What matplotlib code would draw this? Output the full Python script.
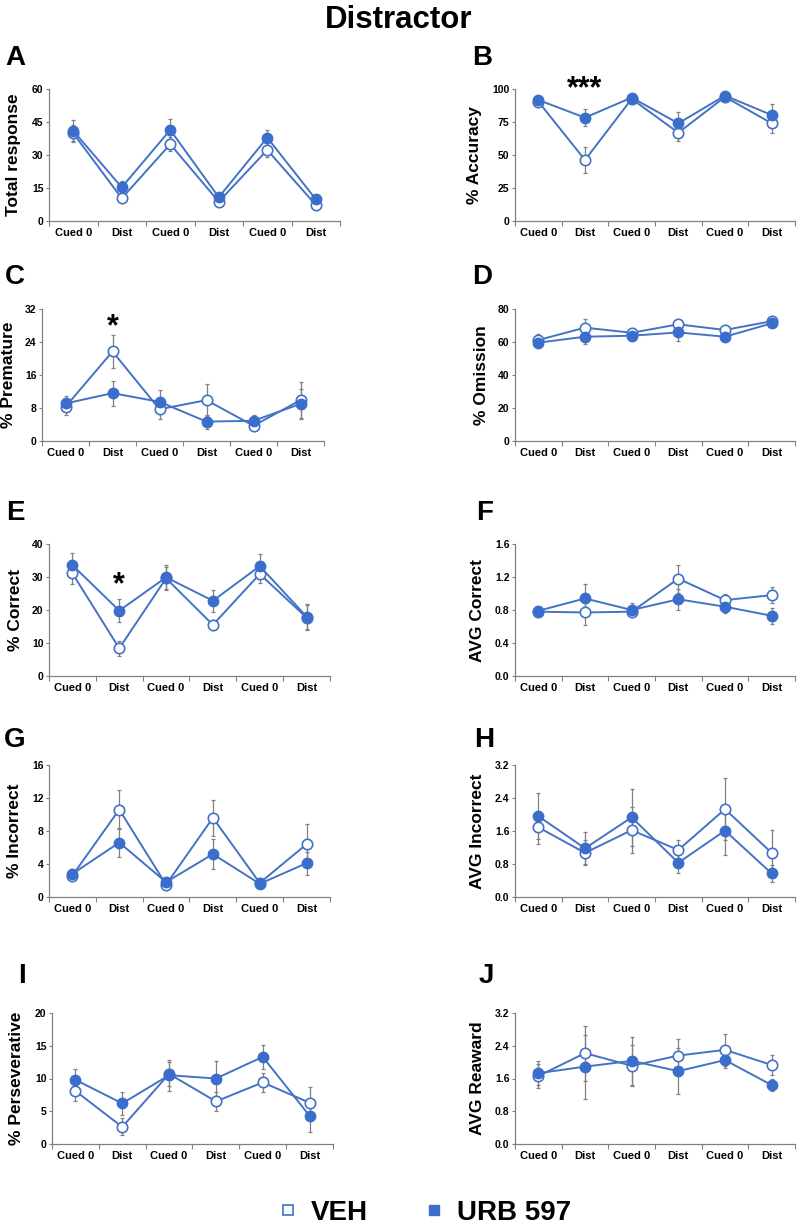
import matplotlib
matplotlib.use("Agg")
import matplotlib.pyplot as plt
from matplotlib.lines import Line2D

plt.rcParams["font.family"] = ["Liberation Sans", "DejaVu Sans"]
plt.rcParams["font.weight"] = "bold"
plt.rcParams["axes.labelweight"] = "bold"

FIG_W, FIG_H = 797, 1227
BLUE = "#4472C4"
BLUE_FILL = "#3B6ECC"
GREY = "#808080"

conditions = ["Cued 0", "Dist", "Cued 0", "Dist", "Cued 0", "Dist"]

# A - Total response
veh_total = [39.9, 10.3, 34.9, 8.8, 32.3, 7.3]
veh_total_err = [3.8, 1.0, 3.2, 0.8, 3.0, 0.7]
urb_total = [41.0, 15.3, 41.4, 10.8, 37.9, 9.9]
urb_total_err = [4.8, 3.0, 4.8, 1.2, 3.5, 1.0]

# B - % Accuracy
veh_acc = [90.5, 46.2, 92.5, 66.9, 94.0, 74.0]
veh_acc_err = [2.0, 10.0, 2.0, 6.0, 1.5, 7.0]
urb_acc = [91.7, 78.3, 93.5, 74.0, 95.0, 80.3]
urb_acc_err = [2.0, 6.5, 1.5, 8.5, 1.5, 8.7]

# C - % Premature
veh_prem = [8.3, 21.7, 7.7, 9.9, 3.7, 9.9]
veh_prem_err = [2.0, 4.0, 2.3, 3.8, 1.2, 4.3]
urb_prem = [9.1, 11.6, 9.5, 4.7, 4.9, 9.0]
urb_prem_err = [1.8, 3.0, 2.8, 1.7, 1.5, 3.6]

# D - % Omission
veh_omis = [61.2, 68.7, 65.6, 70.7, 67.3, 72.6]
veh_omis_err = [3.5, 5.0, 1.5, 2.0, 1.5, 1.5]
urb_omis = [59.6, 63.2, 63.8, 65.8, 63.2, 71.3]
urb_omis_err = [2.5, 4.5, 1.5, 5.0, 1.5, 1.5]

# E - % Correct
veh_corr = [31.1, 8.4, 29.6, 15.5, 30.9, 17.7]
veh_corr_err = [3.2, 2.3, 3.3, 1.5, 2.7, 3.7]
urb_corr = [33.6, 19.8, 29.9, 22.8, 33.3, 18.0]
urb_corr_err = [3.7, 3.4, 3.7, 3.4, 3.6, 3.8]

# F - AVG Correct
veh_avgc = [0.78, 0.77, 0.78, 1.18, 0.92, 0.98]
veh_avgc_err = [0.03, 0.15, 0.05, 0.17, 0.08, 0.10]
urb_avgc = [0.79, 0.94, 0.80, 0.93, 0.84, 0.73]
urb_avgc_err = [0.03, 0.17, 0.08, 0.13, 0.08, 0.10]

# G - % Incorrect
veh_inc = [2.6, 10.6, 1.5, 9.6, 1.7, 6.4]
veh_inc_err = [0.5, 2.4, 0.5, 2.2, 0.4, 2.4]
urb_inc = [2.8, 6.6, 1.8, 5.2, 1.6, 4.1]
urb_inc_err = [0.6, 1.8, 0.6, 1.8, 0.5, 1.4]

# H - AVG Incorrect
veh_avgi = [1.69, 1.07, 1.62, 1.14, 2.13, 1.07]
veh_avgi_err = [0.40, 0.30, 0.55, 0.25, 0.75, 0.55]
urb_avgi = [1.96, 1.18, 1.93, 0.83, 1.61, 0.57]
urb_avgi_err = [0.55, 0.39, 0.70, 0.24, 0.60, 0.20]

# I - % Perseverative
veh_pers = [8.1, 2.6, 10.7, 6.5, 9.4, 6.3]
veh_pers_err = [1.6, 1.3, 1.8, 1.5, 1.4, 2.4]
urb_pers = [9.8, 6.2, 10.5, 10.0, 13.3, 4.3]
urb_pers_err = [1.7, 1.8, 2.4, 2.7, 1.8, 2.5]

# J - AVG Reaward
veh_rew = [1.66, 2.22, 1.91, 2.16, 2.30, 1.93]
veh_rew_err = [0.30, 0.67, 0.50, 0.40, 0.39, 0.24]
urb_rew = [1.73, 1.89, 2.03, 1.78, 2.05, 1.44]
urb_rew_err = [0.30, 0.78, 0.58, 0.57, 0.20, 0.14]

# letter, y label, y ticks, tick format, data, box in px (left, right, top, bottom),
# panel-letter position px, y-label centre x px, significance mark (index, text, y)
panels = [
    ("A", "Total response", [0, 15, 30, 45, 60], "{:.0f}",
     (veh_total, veh_total_err, urb_total, urb_total_err),
     (49, 340, 89, 221), (15, 58), 14, None),
    ("B", "% Accuracy", [0, 25, 50, 75, 100], "{:.0f}",
     (veh_acc, veh_acc_err, urb_acc, urb_acc_err),
     (515, 795, 89, 221), (482, 58), 474, (1, "***", 100)),
    ("C", "% Premature", [0, 8, 16, 24, 32], "{:.0f}",
     (veh_prem, veh_prem_err, urb_prem, urb_prem_err),
     (42, 324, 309, 441), (15, 277), 9, (1, "*", 27.5)),
    ("D", "% Omission", [0, 20, 40, 60, 80], "{:.0f}",
     (veh_omis, veh_omis_err, urb_omis, urb_omis_err),
     (515, 795, 309, 441), (482, 277), 481, None),
    ("E", "% Correct", [0, 10, 20, 30, 40], "{:.0f}",
     (veh_corr, veh_corr_err, urb_corr, urb_corr_err),
     (49, 330, 544, 676), (15, 513), 16, (1, "*", 27.5)),
    ("F", "AVG Correct", [0, 0.4, 0.8, 1.2, 1.6], "{:.1f}",
     (veh_avgc, veh_avgc_err, urb_avgc, urb_avgc_err),
     (515, 795, 544, 676), (485, 513), 478, None),
    ("G", "% Incorrect", [0, 4, 8, 12, 16], "{:.0f}",
     (veh_inc, veh_inc_err, urb_inc, urb_inc_err),
     (49, 330, 765, 897), (15, 740), 15, None),
    ("H", "AVG Incorrect", [0, 0.8, 1.6, 2.4, 3.2], "{:.1f}",
     (veh_avgi, veh_avgi_err, urb_avgi, urb_avgi_err),
     (515, 795, 765, 897), (484, 740), 477, None),
    ("I", "% Perseverative", [0, 5, 10, 15, 20], "{:.0f}",
     (veh_pers, veh_pers_err, urb_pers, urb_pers_err),
     (52, 333, 1013, 1144), (22, 976), 17, None),
    ("J", "AVG Reaward", [0, 0.8, 1.6, 2.4, 3.2], "{:.1f}",
     (veh_rew, veh_rew_err, urb_rew, urb_rew_err),
     (515, 795, 1013, 1144), (486, 976), 477, None),
]


def px_rect(left, right, top, bottom):
    return [left / FIG_W, 1 - bottom / FIG_H, (right - left) / FIG_W, (bottom - top) / FIG_H]


fig = plt.figure(figsize=(FIG_W / 100, FIG_H / 100), dpi=100)
fig.text(0.5, 1 - 20 / FIG_H, "Distractor", ha="center", va="center", fontsize=22.5, fontweight="bold")

x = list(range(len(conditions)))
for letter, ylabel, yticks, fmt, data, box, lab_xy, ylab_x, sig in panels:
    veh, veh_err, urb, urb_err = data
    ax = fig.add_axes(px_rect(*box))

    ax.errorbar(x, veh, yerr=veh_err, fmt="none", ecolor=GREY, elinewidth=0.9,
                capsize=1.5, capthick=0.9, zorder=1, clip_on=False)
    ax.errorbar(x, urb, yerr=urb_err, fmt="none", ecolor=GREY, elinewidth=0.9,
                capsize=1.5, capthick=0.9, zorder=1, clip_on=False)
    ax.plot(x, veh, "-o", color=BLUE, lw=1.4, ms=7.5, mfc="white", mec=BLUE,
            mew=1.2, zorder=2, clip_on=False)
    ax.plot(x, urb, "-o", color=BLUE, lw=1.4, ms=7.5, mfc=BLUE_FILL, mec=BLUE_FILL,
            zorder=3, clip_on=False)

    ax.set_xlim(-0.5, len(conditions) - 0.5)
    ax.set_ylim(yticks[0], yticks[-1])
    ax.set_yticks(yticks)
    ax.set_yticklabels([fmt.format(t) for t in yticks], fontsize=7.5, fontweight="bold")
    ax.set_xticks(x)
    ax.set_xticklabels(conditions, fontsize=8, fontweight="bold")
    ax.set_xticks([i - 0.5 for i in range(len(conditions) + 1)], minor=True)
    ax.tick_params(axis="x", which="major", length=0, pad=5)
    ax.tick_params(axis="x", which="minor", length=3.5, width=0.8, color=GREY, direction="out")
    ax.tick_params(axis="y", length=2.5, width=0.8, color=GREY, direction="out", pad=1.5)
    for side in ("top", "right"):
        ax.spines[side].set_visible(False)
    for side in ("left", "bottom"):
        ax.spines[side].set_color(GREY)
        ax.spines[side].set_linewidth(0.9)

    ax.set_ylabel(ylabel, fontsize=12.5, fontweight="bold", va="center")
    ax.yaxis.set_label_coords((ylab_x - box[0]) / (box[1] - box[0]), 0.5)

    fig.text(lab_xy[0] / FIG_W, 1 - lab_xy[1] / FIG_H, letter, ha="center", va="center",
             fontsize=20, fontweight="bold")

    if sig is not None:
        idx, mark, ypos = sig
        ax.text(idx, ypos, mark, ha="center", va="center", fontsize=22,
                fontweight="bold", clip_on=False)

handles = [
    Line2D([], [], ls="none", marker="s", ms=7, mfc="white", mec=BLUE, mew=1.2),
    Line2D([], [], ls="none", marker="s", ms=7, mfc=BLUE_FILL, mec=BLUE_FILL),
]
fig.legend(handles, ["VEH", "URB 597"], loc="center", bbox_to_anchor=(0.532, 1 - 1213 / FIG_H),
           ncol=2, frameon=False, prop={"size": 20, "weight": "bold"},
           handlelength=0.8, handletextpad=0.4, columnspacing=2.0)

fig.savefig("out.png", dpi=100)
